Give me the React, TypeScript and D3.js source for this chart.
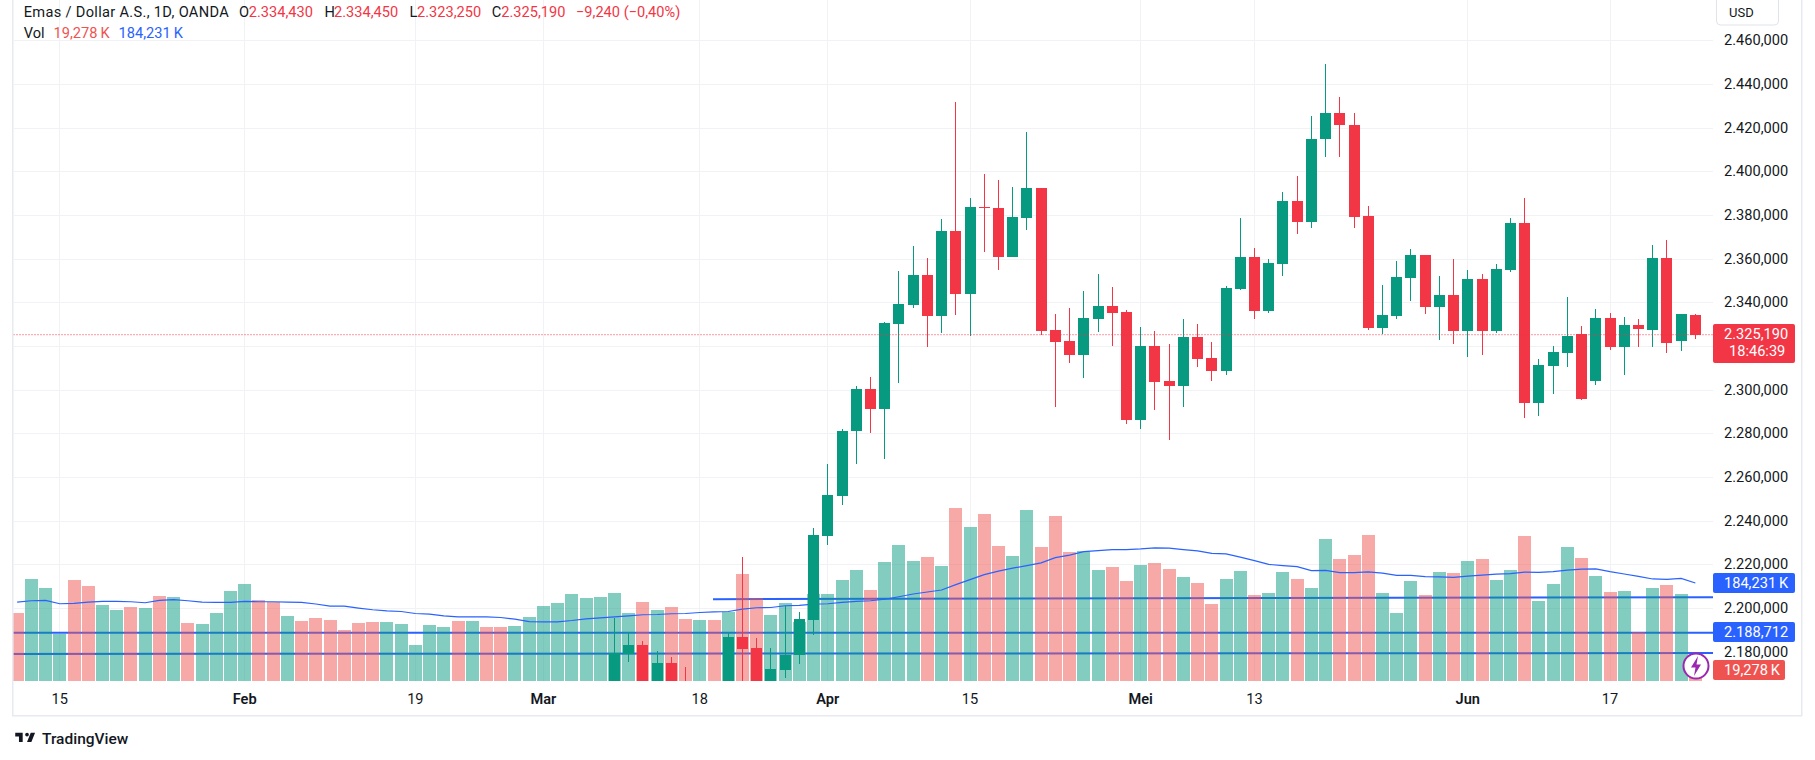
import React from "react";
import * as d3 from "d3";

const volume = [128.2,192.4,175.4,88.6,190.5,179.2,143.3,133.9,139.6,137.7,160.3,158.4,109.4,107.5,128.2,169.7,182.9,152.8,149,122.6,
113.2,118.8,115,96.2,109.4,111.3,111.3,107.5,67.9,105.6,101.8,113.2,113.2,101.8,101.8,103.7,120.7,141.5,147.1,164.1,
156.5,158.4,166,128.2,149,133.9,139.6,116.9,115,115,130.1,201.8,156.5,124.5,147.1,111.3,164.1,164.1,190.5,209.3,
171.6,224.4,256.5,226.3,233.9,216.9,324.4,288.6,313.1,254.6,235.8,320.6,252.7,309.3,243.3,245.2,209.3,215,188.6,218.8,
222.5,211.2,196.1,184.8,145.2,192.4,207.5,162.2,166,205.6,192.4,175.4,267.8,230.1,237.6,275.4,166,128.2,188.6,162.2,
205.6,203.7,226.3,230.1,190.5,209.3,273.5,150.9,182.9,252.7,232,198,167.9,169.7,92.4,175.4,181.1,164.1,19.278];

const volumeDir = [
  "rgggrrggrgrgrggggrrg",
  "rrrrrrgggggrgrrggggg",
  "ggggrgrrgrgrrggggggg",
  "rgggrgrgrrggrrrggrrg",
  "rrgrrggrggrggrrrgggr",
  "grgrggrgggrgrgrgrgr",
].join("");

const vol_ma = [148.4,150.9,151.4,145.2,145.8,148.4,149.6,149.6,149,147.1,151.4,152.8,150.9,148.4,147.7,147.7,149.6,149,149,148.4,
147.7,144.7,140.9,140.9,137.1,133.9,132,130.7,126.9,125.8,122.6,120.7,120.7,120.7,119.4,116.4,111.8,111.3,111.3,113.7,
116.9,118.8,120.7,122.6,124.5,125,126.4,126.9,128.8,130.1,130.7,135.2,137.7,138.2,141.5,142,144.7,145.2,147.7,149.6,
150.9,153.7,158.4,163.5,167.3,171.1,181.1,190.5,199.9,206.5,212.2,216.9,222,232,236.7,243.3,245.2,247.1,247.1,248.4,
250.3,249.9,247.1,244.6,240.1,239,232.9,226.3,219.2,216.9,215,207.5,208,203.7,203.7,205,202.7,198.6,198.6,196.1,
195.6,194.8,197.1,199,200.9,201.8,204.6,204.3,205.6,208.4,210.3,210.7,205.6,201.2,196.7,191.8,191,192.9,184.231];

const firstCandle = 42;
const candleOpen = [2157.9,2178.8,2183.1,2157.9,2174.9,2162.5,2140,2150,2157.9,2186.8,2181.7,2157.9,2171.7,2178.5,2194.6,2233,2251.3,2281.1,
2300.3,2291.2,2330.1,2338.8,2352.5,2333.8,2372.7,2343.8,2383.7,2383.2,2360.8,2378.6,2392.4,2327.3,2322.3,2315.9,2332.4,2338.3,
2335.6,2286.1,2320,2304,2301.7,2324.1,2314.5,2308.6,2346.1,2360.8,2336,2357.6,2386.4,2376.8,2414.8,2426.7,2421.2,2379.6,
2328.2,2333.8,2351.2,2361.7,2337.9,2343.4,2326.9,2350.7,2326.9,2354.8,2376.3,2293.9,2310.9,2316.8,2325.5,2304,2332.8,2319.5,
2329.6,2327.3,2360.3,2322.3,2334.43];
const candleHigh = [2195.5,2189.1,2184.9,2180.4,2177.6,2173,2162.5,2155,2189.1,2223.4,2186.4,2181.9,2201,2198.2,2236.7,2266,2282,2301.7,
2305.8,2331,2354.4,2365.8,2360.3,2378.2,2431.7,2387.8,2398.8,2396,2392.8,2418,2392.4,2334.7,2337.4,2345.2,2353,2347.1,
2336.5,2328.7,2326.9,2321,2332.4,2330.1,2321.8,2347.5,2378.6,2364.9,2359.9,2390.5,2397.9,2425.3,2449.1,2434,2426.7,2384.1,
2347.9,2359,2364.4,2361.7,2352.1,2359.9,2354.8,2353,2357.6,2378.6,2387.8,2314.1,2320,2342.4,2329.2,2336.9,2335.1,2333.3,
2332.4,2366.3,2368.6,2334.7,2334.45];
const candleLow = [2148.8,2175.3,2153.4,2152.4,2157.9,2140,2135,2135,2155.6,2150,2153.4,2153.4,2168,2174.4,2187.7,2228.9,2247.2,2266,
2280.2,2268.3,2303.1,2337.4,2319.5,2326,2334.2,2324.6,2363.1,2354.8,2360.6,2373.1,2325.1,2292.1,2312.2,2305.4,2326.4,2320,
2284.3,2282,2290.7,2277,2292.1,2310.4,2304,2306.7,2345.7,2332.4,2335.1,2352.1,2371.3,2374.1,2406.6,2406.6,2374,2327.3,
2325.5,2332.4,2340.6,2334.7,2322.8,2321,2315,2315.9,2326,2353.9,2287,2287.9,2298.1,2310.4,2295.3,2302.1,2318.2,2306.7,
2319.5,2319.5,2316.8,2317.7,2323.25];
const candleClose = [2179.4,2183.1,2157.9,2174.9,2164.8,2150,2150,2140,2186.8,2181.3,2157.9,2172.1,2178.5,2195,2233.5,2251.8,2281.1,2300.3,
2291.2,2330.5,2339.2,2352.5,2333.8,2372.7,2343.8,2383.7,2383.2,2360.8,2379.1,2392.4,2326.9,2321.8,2315.9,2332.8,2338.3,2335.1,
2286.1,2320,2303.5,2301.7,2324.1,2314.1,2308.6,2346.6,2360.8,2336,2358,2386.4,2376.8,2414.8,2426.7,2421.2,2379.1,2328.2,
2334.2,2351.6,2361.7,2337.9,2343.4,2326.9,2350.7,2326.9,2355.3,2376.3,2293.9,2311.3,2317.3,2324.6,2295.7,2332.8,2319.5,2329.6,
2327.8,2360.3,2321.4,2334.7,2325.19];

const priceTicks = [2460,2440,2420,2400,2380,2360,2340,2320,2300,2280,2260,2240,2220,2200,2180];
const priceTickLabels = ["2.460,000","2.440,000","2.420,000","2.400,000","2.380,000","2.360,000","2.340,000","","2.300,000","2.280,000","2.260,000","2.240,000","2.220,000","2.200,000","2.180,000"];
const timeTickIndex = [3,16,28,37,48,57,67,79,87,102,112];
const timeTickLabel = ["15","Feb","19","Mar","18","Apr","15","Mei","13","Jun","17"];
const timeTickMajor = [false,true,false,true,false,true,false,true,false,true,false];

const lastPrice = 2325.19;
const rayUpper = { fromIndex: 49, y1: 2204.1, y2: 2205.0 };
const rayMiddle = 2188.712;
const rayLower = { y1: 2179.0, y2: 2179.4 };

const GREEN = "#089981";
const RED = "#F23645";
const BLUE = "#2962FF";
const GRID = "#F0F2F6";
const TEXT = "#131722";
const FONT = "Roboto, sans-serif";

const W = 1815, H = 760;
const plot = { left: 13.5, right: 1713, top: 0, bottom: 681 };

const x = d3.scaleLinear().domain([3, 102]).range([59.8, 1467.8]);
const y = d3.scaleLinear().domain([2460, 2180]).range([40.3, 651.8]);
const vy = d3.scaleLinear().domain([0, 184.231]).range([681, 583]);
const px = (v: number) => Math.round(v);

const maLine = d3.line<number>().x((_, i) => x(i)).y((v) => vy(v)).curve(d3.curveLinear);

function Seg({ x: tx, y: ty, fill, children, length }: any) {
  return <text x={tx} y={ty} fill={fill} fontSize={14.6} fontFamily={FONT} textLength={length}>{children}</text>;
}

export default function App() {
  const dir = (i: number) => (volumeDir[i] === "r" ? "r" : "g");
  return (
    <svg width={W} height={H} viewBox={`0 0 ${W} ${H}`} style={{ position: "absolute", left: 0, top: 0, display: "block", background: "#fff" }}>
      <defs>
        <clipPath id="plot"><rect x={plot.left} y={plot.top} width={plot.right - plot.left} height={plot.bottom - plot.top} /></clipPath>
      </defs>
      <rect width={W} height={H} fill="#fff" />

      {/* frame */}
      <rect x={12} y={0} width={1.5} height={716} fill="#E8EAF2" />
      <rect x={12} y={715} width={1790} height={1.5} fill="#E8EAF2" />
      <rect x={1801} y={0} width={1.5} height={716} fill="#E8EAF2" />

      {/* grid */}
      <g shapeRendering="crispEdges" stroke={GRID} strokeWidth={1}>
        {priceTicks.map((t) => (
          <line key={t} x1={plot.left} x2={plot.right} y1={px(y(t)) + 0.5} y2={px(y(t)) + 0.5} />
        ))}
        {timeTickIndex.map((t) => (
          <line key={t} x1={px(x(t) - 0.5) + 0.5} x2={px(x(t) - 0.5) + 0.5} y1={0} y2={plot.bottom} />
        ))}
      </g>

      <g clipPath="url(#plot)">
        {/* rays */}
        <line x1={x(rayUpper.fromIndex) - 1} x2={plot.right} y1={y(rayUpper.y1)} y2={y(rayUpper.y2)} stroke={BLUE} strokeWidth={2} />
        <line x1={plot.left} x2={plot.right} y1={y(rayMiddle)} y2={y(rayMiddle)} stroke={BLUE} strokeWidth={2} />
        <line x1={plot.left} x2={plot.right} y1={y(rayLower.y1)} y2={y(rayLower.y2)} stroke={BLUE} strokeWidth={2} />

        {/* volume */}
        <g shapeRendering="crispEdges">
          {volume.map((v, i) => (
            <rect key={i} x={px(x(i) - 6.5)} width={13} y={px(vy(v))} height={plot.bottom - px(vy(v))}
              fill={dir(i) === "r" ? "rgba(239,83,80,0.5)" : "rgba(8,153,129,0.5)"} />
          ))}
        </g>
        <path d={maLine(vol_ma) ?? ""} fill="none" stroke={BLUE} strokeWidth={1.2} />

        {/* candles */}
        <g shapeRendering="crispEdges">
          {candleOpen.map((o, k) => {
            const i = k + firstCandle;
            const c = candleClose[k];
            const col = c >= o ? GREEN : RED;
            const top = px(y(Math.max(o, c)));
            const bot = px(y(Math.min(o, c)));
            const cx = px(x(i) - 0.5);
            return (
              <g key={i}>
                <rect x={cx} width={1} y={y(candleHigh[k])} height={y(candleLow[k]) - y(candleHigh[k])} fill={col} />
                <rect x={cx - 5} width={11} y={top} height={Math.max(bot - top, 1)} fill={col} />
              </g>
            );
          })}
        </g>

        {/* last price line */}
        <line x1={plot.left} x2={plot.right} y1={y(lastPrice)} y2={y(lastPrice)} stroke={RED} strokeWidth={1} strokeDasharray="1 2" />
      </g>

      {/* price axis labels */}
      {priceTicks.map((t, i) => (
        <text key={t} x={1724} y={y(t) + 5} fontSize={14.6} fontFamily={FONT} fill={TEXT}>{priceTickLabels[i]}</text>
      ))}

      {/* time axis labels */}
      {timeTickIndex.map((t, i) => (
        <text key={t} x={x(t)} y={704} textAnchor="middle" fontSize={14.6} fontFamily={FONT} fontWeight={timeTickMajor[i] ? 600 : 400} fill={TEXT}>{timeTickLabel[i]}</text>
      ))}

      {/* currency button */}
      <rect x={1716.5} y={-6} width={62} height={31} rx={4} fill="#fff" stroke="#E0E3EB" />
      <text x={1729} y={17} fontSize={13} fontFamily={FONT} fill={TEXT}>USD</text>

      {/* legend */}
      <Seg x={23.7} y={17} fill={TEXT} length={205}>Emas / Dollar A.S., 1D, OANDA</Seg>
      <Seg x={239} y={17} fill={TEXT}>O</Seg><Seg x={248.8} y={17} fill={RED}>2.334,430</Seg>
      <Seg x={324.5} y={17} fill={TEXT}>H</Seg><Seg x={334} y={17} fill={RED}>2.334,450</Seg>
      <Seg x={409.5} y={17} fill={TEXT}>L</Seg><Seg x={417} y={17} fill={RED}>2.323,250</Seg>
      <Seg x={491.8} y={17} fill={TEXT}>C</Seg><Seg x={501.3} y={17} fill={RED}>2.325,190</Seg>
      <Seg x={576} y={17} fill={RED}>−9,240 (−0,40%)</Seg>
      <Seg x={23.7} y={38} fill={TEXT}>Vol</Seg>
      <Seg x={53.6} y={38} fill="#EF5350">{"19,278\u2009K"}</Seg>
      <Seg x={118.6} y={38} fill={BLUE}>{"184,231\u2009K"}</Seg>

      {/* axis badges */}
      <rect x={1713} y={573} width={82} height={20} rx={2} fill={BLUE} />
      <text x={1724} y={588} fontSize={14.6} fontFamily={FONT} fill="#fff">{"184,231\u2009K"}</text>
      <rect x={1713} y={622} width={82} height={20} rx={2} fill={BLUE} />
      <text x={1724} y={637} fontSize={14.6} fontFamily={FONT} fill="#fff">2.188,712</text>
      <rect x={1713} y={660} width={72} height={20} rx={2} fill="#EF5350" />
      <text x={1724} y={675} fontSize={14.6} fontFamily={FONT} fill="#fff">{"19,278\u2009K"}</text>
      <rect x={1713} y={324} width={82} height={39} rx={2} fill={RED} />
      <text x={1724} y={339} fontSize={14.6} fontFamily={FONT} fill="#fff">2.325,190</text>
      <text x={1729} y={356} fontSize={14.6} fontFamily={FONT} fill="#fff">18:46:39</text>

      {/* lightning badge */}
      <circle cx={1696} cy={666} r={12.5} fill="#fff" stroke="#9C27B0" strokeWidth={2} />
      <path d="M1698 656 L1691 667.5 L1695.5 667.5 L1694 676 L1701 664.5 L1696.5 664.5 Z" fill="#9C27B0" />

      {/* logo */}
      <g transform="translate(14,729) scale(0.62)" fill={TEXT}>
        <path d="M14 6H2v6h6v9h6V6zm14 15h-7l6-15h7l-6 15zm-7-9a3 3 0 1 0 0-6 3 3 0 0 0 0 6z" />
      </g>
      <text x={42} y={744} fontSize={15.5} fontFamily={FONT} fontWeight={500} fill={TEXT}>TradingView</text>
    </svg>
  );
}
